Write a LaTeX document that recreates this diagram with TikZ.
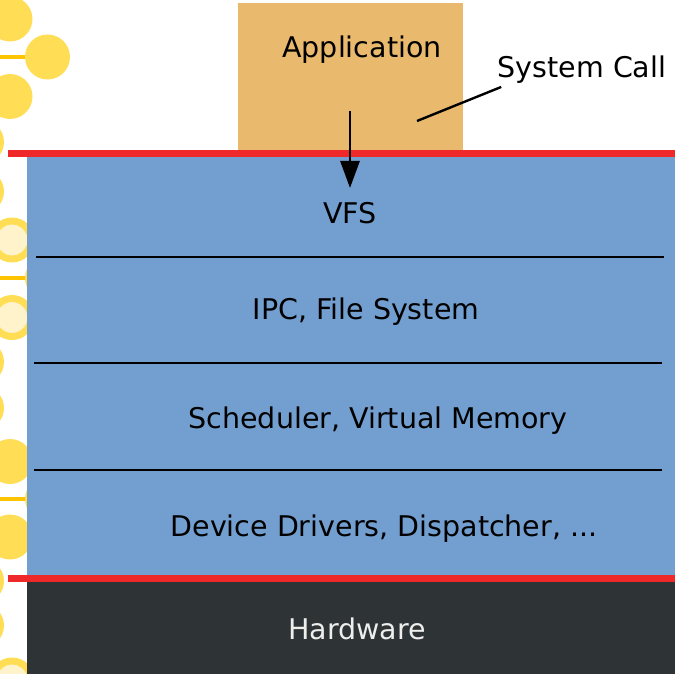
\documentclass[tikz,border=0pt]{standalone}
\usepackage{fontspec}
\setmainfont{DejaVu Sans}
\usetikzlibrary{arrows.meta, positioning}
\definecolor{appfill}{HTML}{E9B96E}
\definecolor{kernfill}{HTML}{729FCF}
\definecolor{hwfill}{HTML}{2E3436}
\definecolor{hwtext}{HTML}{EEEEEC}
\definecolor{edgered}{HTML}{EF2929}
\definecolor{dotyellow}{HTML}{FFDD55}
\definecolor{dotlight}{HTML}{FFF3CC}
\definecolor{dotline}{HTML}{FFC400}

\begin{document}
\begin{tikzpicture}[x=1pt, y=-1pt,
  layer/.style={font=\fontsize{28.5}{34}\selectfont, anchor=base},
  divider/.style={line width=2.6pt},
  boundary/.style={edgered, line width=6.5pt},
  ring/.style={draw=dotyellow, line width=7pt, fill=dotlight}]
  \useasboundingbox (0,0) rectangle (675,674);
  % left decoration
  \foreach \y in {19,96.5,461.5,537}
    \fill[dotyellow] (10,\y) circle (22.5pt);
  \foreach \y in {240,317.5,680}
    \draw[ring] (12,\y) circle (19pt);
  \foreach \y in {142,191.5,362,408,581,625.5}
    \fill[dotyellow] (-18,\y) circle (22pt);
  \foreach \y in {57,278,499}{
    \draw[dotline, line width=4pt] (0,\y) -- (26,\y);
    \fill[dotyellow] (47.5,\y) circle (22.5pt);
  }
  % blocks
  \fill[appfill] (238,3) rectangle (463,152);
  \fill[kernfill] (27,156) rectangle (675,578);
  \fill[hwfill] (27,578) rectangle (675,674);
  \draw[boundary] (8,153.5) -- (675,153.5);
  \draw[boundary] (8,578.5) -- (675,578.5);
  \draw[divider] (36,257) -- (664,257);
  \draw[divider] (34,363) -- (662,363);
  \draw[divider] (34,470) -- (662,470);
  % labels
  \node[layer] (app) at (362,58) {Application};
  \node[layer] (call) at (582,77.5) {System Call};
  \node[layer] (vfs) at (350,223.5) {VFS};
  \node[layer] (ipc) at (366,319.5) {IPC, File System};
  \node[layer] (sched) at (378,428.5) {Scheduler, Virtual Memory};
  \node[layer] (drv) at (384,536) {Device Drivers, Dispatcher, ...};
  \node[layer, text=hwtext] (hw) at (357,639) {Hardware};
  % system call
  \coordinate (callsrc) at (350,111);
  \coordinate (calltip) at (350,188);
  \coordinate (callfoot) at (417,121);
  \draw[-{Triangle[length=27pt,width=19pt]}, line width=2.8pt] (callsrc) -- (calltip);
  \draw[line width=2.4pt] (callfoot) -- ([xshift=7pt]call.south west);
\end{tikzpicture}
\end{document}
